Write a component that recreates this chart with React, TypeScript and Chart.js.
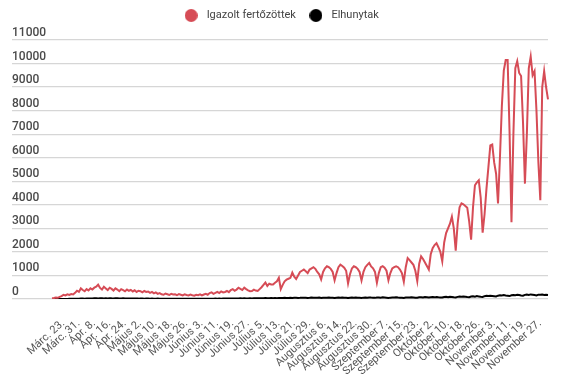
import React, { useEffect, useRef } from 'react';
import { Chart, registerables } from 'chart.js';

Chart.register(...registerables);

// Tick labels shown on the x axis (every 8th category, starting at index 10)
const tickLabels = [
  'Márc. 23.', 'Márc. 31.', 'Ápr. 8.', 'Ápr. 16.', 'Ápr. 24.', 'Május 2.', 'Május 10.', 'Május 18.',
  'Május 26.', 'Június 3.', 'Június 11.', 'Június 19.', 'Június 27.', 'Július 5.', 'Július 13.',
  'Július 21.', 'Július 29.', 'Augusztus 6.', 'Augusztus 14.', 'Augusztus 22.', 'Augusztus 30.',
  'Szeptember 7.', 'Szeptember 15.', 'Szeptember 23.', 'Október 2.', 'Október 10.', 'Október 18.',
  'Október 26.', 'November 3.', 'November 11.', 'November 19.', 'November 27.',
];
const FIRST_TICK = 10;
const TICK_STEP = 8;

// Daily confirmed cases
const confirmed = [
  30, 40, 60, 50, 90, 120, 180, 150, 200, 170,
  210, 190, 260, 350, 300, 450, 380, 330, 420, 360,
  450, 400, 480, 520, 610, 470, 400, 520, 450, 380,
  480, 430, 360, 450, 400, 330, 420, 380, 330, 400,
  350, 390, 320, 370, 300, 350, 330, 280, 340, 300,
  320, 260, 300, 240, 280, 220, 250, 200, 180, 230,
  200, 170, 220, 190, 200, 160, 210, 180, 150, 200,
  170, 150, 190, 160, 140, 180, 160, 200, 150, 190,
  220, 180, 250, 280, 220, 260, 300, 250, 320, 280,
  300, 340, 290, 380, 420, 350, 400, 480, 430, 380,
  480, 420, 370, 330, 340, 400, 360, 340, 420, 500,
  600, 700, 550, 650, 620, 620, 690, 750, 900, 420,
  600, 750, 820, 860, 900, 1120, 950, 850, 1000, 1150,
  1200, 1250, 1180, 1100, 1250, 1300, 1350, 1280, 1150, 1050,
  830, 1150, 1300, 1390, 1350, 1280, 1150, 790, 1100, 1350,
  1460, 1400, 1330, 1200, 660, 1050, 1300, 1390, 1350, 1280,
  1150, 790, 1150, 1350, 1450, 1530, 1380, 1300, 1150, 690,
  1100, 1350, 1390, 1330, 1200, 790, 1100, 1300, 1350, 1390,
  1350, 1250, 1100, 730, 1350, 1740, 1650, 1550, 1450, 1200,
  760, 1500, 1810, 1700, 1550, 1400, 1250, 1900, 2160, 2290,
  2370, 2200, 2000, 1600, 2400, 2800, 3000, 3200, 3500, 3000,
  2050, 3200, 3900, 4060, 4020, 3950, 3880, 3300, 2520, 3900,
  4830, 4950, 5040, 4300, 2820, 3600, 4690, 5600, 6520, 6560,
  5800, 5320, 4060, 6000, 8200, 9700, 10150, 10150, 7100, 3260,
  7000, 9800, 10100, 9600, 9470, 7500, 4900, 7000, 9800, 10300,
  9500, 9680, 8000, 5800, 4200, 9000, 9680, 9000, 8480,
];

// Daily deaths
const deaths = [
  0, 0, 1, 1, 2, 2, 3, 5, 4, 7,
  6, 8, 12, 10, 15, 18, 20, 14, 19, 22,
  25, 21, 28, 30, 24, 32, 27, 22, 30, 26,
  35, 28, 24, 30, 32, 26, 22, 28, 25, 20,
  24, 22, 18, 25, 20, 16, 22, 19, 15, 20,
  17, 14, 19, 15, 12, 16, 14, 11, 15, 12,
  10, 14, 11, 9, 13, 10, 8, 12, 10, 9,
  11, 8, 10, 7, 12, 9, 8, 11, 10, 13,
  9, 12, 15, 11, 14, 16, 13, 18, 15, 20,
  17, 22, 19, 25, 21, 18, 26, 22, 28, 24,
  30, 26, 22, 29, 25, 32, 28, 35, 30, 27,
  33, 38, 30, 36, 40, 34, 42, 37, 45, 39,
  44, 48, 41, 46, 52, 43, 49, 55, 47, 51,
  58, 50, 54, 46, 52, 60, 55, 49, 57, 62,
  45, 53, 58, 50, 61, 55, 48, 42, 56, 60,
  52, 64, 57, 49, 40, 55, 62, 58, 67, 53,
  50, 44, 58, 61, 55, 68, 59, 52, 48, 60,
  64, 56, 70, 61, 53, 46, 58, 65, 60, 72,
  63, 57, 50, 44, 62, 68, 60, 73, 66, 58,
  52, 70, 78, 65, 82, 71, 60, 75, 84, 70,
  88, 77, 68, 62, 85, 92, 80, 96, 87, 74,
  68, 90, 102, 95, 110, 98, 86, 78, 105, 115,
  100, 122, 110, 97, 88, 120, 135, 128, 142, 130,
  118, 105, 140, 155, 148, 165, 150, 137, 125, 158,
  170, 162, 180, 168, 152, 140, 175, 188, 172, 195,
  180, 166, 150, 185, 178, 192, 170, 182, 175,
];

const Y_MIN = 0;
const Y_MAX = 11000;
const Y_STEP = 1000;

const RED = 'rgb(214, 76, 86)';
const BLACK = '#000000';

const legendSpacing = {
  id: 'legendSpacing',
  beforeInit(chart: any) {
    const legend = chart.legend;
    if (!legend) return;
    const origFit = legend.fit;
    legend.fit = function () {
      origFit.call(this);
      this.height += 9;
    };
  },
};

export default function App() {
  const ref = useRef<HTMLCanvasElement>(null);

  useEffect(() => {
    const makeDot = (color: string) => {
      const c = document.createElement('canvas');
      c.width = 13;
      c.height = 13;
      const g = c.getContext('2d')!;
      g.fillStyle = color;
      g.beginPath();
      g.arc(6.5, 6.5, 6.5, 0, Math.PI * 2);
      g.fill();
      return c;
    };

    const labels = confirmed.map((_, i) => {
      const k = (i - FIRST_TICK) / TICK_STEP;
      return i >= FIRST_TICK && Number.isInteger(k) && k < tickLabels.length ? tickLabels[k] : '';
    });

    Chart.defaults.font.family = "Roboto, 'Noto Sans', sans-serif";

    const chart = new Chart(ref.current!, {
      type: 'line',
      data: {
        labels,
        datasets: [
          {
            label: 'Igazolt fertőzöttek',
            data: confirmed,
            borderColor: RED,
            backgroundColor: RED,
            borderWidth: 2,
            pointRadius: 0,
            pointHoverRadius: 0,
            tension: 0,
            pointStyle: makeDot(RED) as any,
          },
          {
            label: 'Elhunytak',
            data: deaths,
            borderColor: BLACK,
            backgroundColor: BLACK,
            borderWidth: 2,
            pointRadius: 0,
            pointHoverRadius: 0,
            tension: 0,
            pointStyle: makeDot(BLACK) as any,
          },
        ],
      },
      options: {
        animation: false,
        responsive: false,
        events: [],
        layout: { padding: { left: 12, right: 27, top: 0, bottom: 0 } },
        plugins: {
          tooltip: { enabled: false },
          legend: {
            position: 'top',
            align: 'center',
            labels: {
              usePointStyle: true,
              pointStyleWidth: 20,
              boxHeight: 13,
              padding: 10,
              color: '#444',
              font: { size: 11 },
            },
          },
        },
        scales: {
          x: {
            grid: { display: false, drawTicks: false },
            border: { display: false },
            ticks: {
              autoSkip: false,
              minRotation: 42,
              maxRotation: 42,
              padding: 18,
              labelOffset: -8,
              color: '#555',
              font: { size: 11 },
            },
            afterFit: (s: any) => {
              s.height = 88;
            },
          },
          y: {
            min: Y_MIN,
            max: Y_MAX,
            grid: { color: '#d6d6d6', lineWidth: 1.2, tickLength: 40, drawTicks: true, drawOnChartArea: true },
            border: { display: false },
            ticks: {
              stepSize: Y_STEP,
              crossAlign: 'far',
              labelOffset: -7,
              padding: 0,
              color: '#4a4a4a',
              font: { size: 12, weight: '500' as any },
              callback: (v: any) => String(v),
            },
            afterFit: (s: any) => {
              s.width = 40;
            },
          },
        },
      },
      plugins: [legendSpacing],
    });
    return () => chart.destroy();
  }, []);

  return (
    <div style={{ position: 'absolute', left: 0, top: 0, width: 575, height: 387, background: '#fff' }}>
      <canvas ref={ref} width={575} height={387} style={{ display: 'block' }} />
    </div>
  );
}
